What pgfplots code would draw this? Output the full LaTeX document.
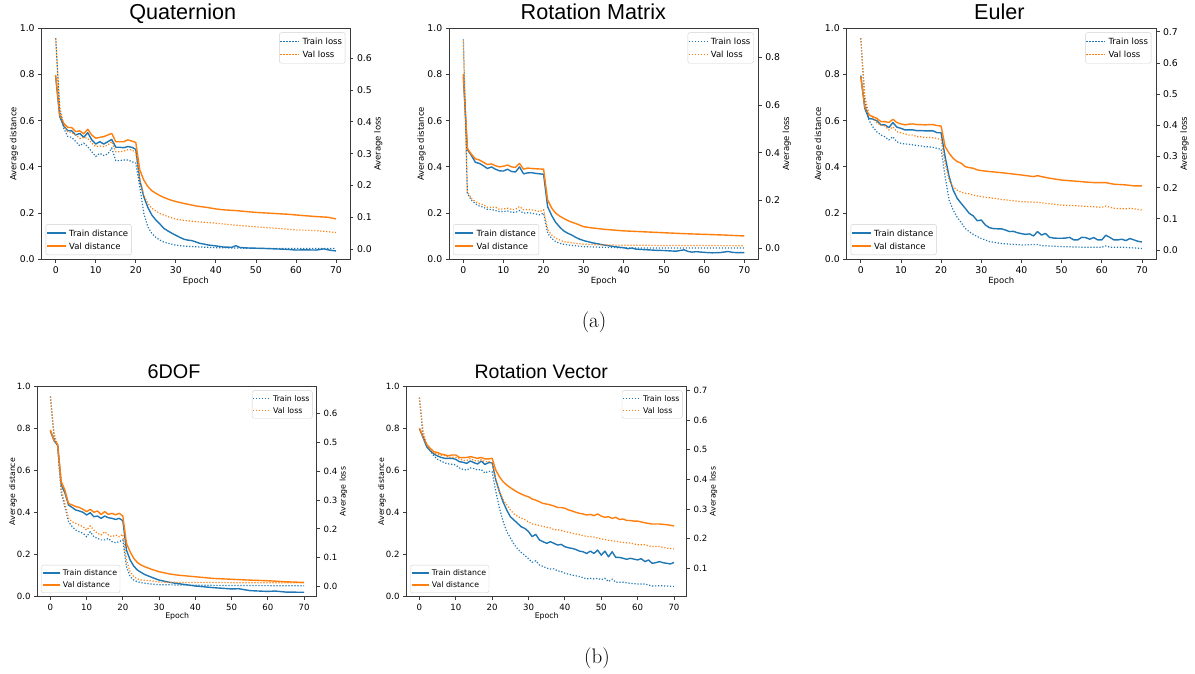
\documentclass[border=0pt]{standalone}
\usepackage{fontspec}
\newfontfamily\dejavu{DejaVu Sans}
\newfontfamily\arialf{Liberation Sans}
\usepackage{pgfplots}
\pgfplotsset{compat=1.18}

\definecolor{c0}{HTML}{1F77B4}
\definecolor{c1}{HTML}{FF7F0E}
\definecolor{spine}{HTML}{3A3A3A}

\pgfplotsset{
  mplcommon/.style={
    scale only axis, xmin=-3.5, xmax=73.5,
    axis line style={spine, line width=0.8pt},
    every tick/.style={spine, line width=0.8pt},
    tick align=outside, major tick length=3.5pt,
    /pgf/number format/assume math mode=true,
    y tick label style={/pgf/number format/.cd, fixed, fixed zerofill, precision=1, /tikz/.cd},
    legend cell align=left,
    legend image code/.code={\draw[##1] (0pt,0pt) -- (18.7pt,0pt);},
    legend style={draw=black!18, rounded corners=2pt, fill=white, fill opacity=0.8, text opacity=1,
      inner xsep=0.3pt, inner ysep=2.3pt},
  },
  leftax/.style={mplcommon, ymin=0, ymax=1,
    xtick={0,10,...,70}, ytick={0,0.2,0.4,0.6,0.8,1.0},
    xtick pos=bottom, ytick pos=left,
    xlabel={Epoch}, ylabel={Average distance}},
  rightax/.style={mplcommon, axis x line=none, axis y line*=right,
    ylabel={Average loss}},
  toprow/.style={
    tick label style={font=\dejavu\fontsize{9.3}{11}\selectfont},
    label style={font=\dejavu\fontsize{8.5}{10}\selectfont},
    xlabel style={at={(axis description cs:0.5,-0.094)}, anchor=center},
    legend style={font=\dejavu\fontsize{8.5}{10}\selectfont,
      nodes={inner ysep=3.15pt, inner xsep=2.8pt, text height=6.3pt, text depth=0.4pt}},
    height=231pt},
  botrow/.style={
    tick label style={font=\dejavu\fontsize{8.6}{10}\selectfont},
    label style={font=\dejavu\fontsize{7.8}{9}\selectfont},
    xlabel style={at={(axis description cs:0.5,-0.092)}, anchor=center},
    legend style={font=\dejavu\fontsize{7.8}{9}\selectfont, inner ysep=1.8pt,
      nodes={inner ysep=2.9pt, inner xsep=2.6pt, text height=5.8pt, text depth=0.4pt}},
    legend image code/.code={\draw[##1] (0pt,0pt) -- (17pt,0pt);},
    height=210pt},
  ylabL/.style={ylabel style={at={(axis description cs:#1,0.5)}, anchor=center}},
  ylabR/.style={ylabel style={at={(axis description cs:#1,0.5)}, anchor=center}},
  legLL/.style={legend style={at={(0.013,0.018)}, anchor=south west}},
  legUR/.style={legend style={at={(0.985,0.982)}, anchor=north east}},
  tdist/.style={c0, line width=1.4pt, line join=round},
  vdist/.style={c1, line width=1.4pt, line join=round},
  tloss/.style={c0, line width=1.2pt, dash pattern=on 1.2pt off 1.8pt},
  vloss/.style={c1, line width=1.2pt, dash pattern=on 1.2pt off 1.8pt},
}

\begin{document}
\begin{tikzpicture}
\path[use as bounding box] (0pt,0pt) rectangle (1195pt,673pt);

% ================= Quaternion =================
\begin{axis}[leftax, toprow, legLL, ylabL=-0.09, width=308.3pt, at={(41.7pt,413.7pt)}, anchor=south west]
\addplot[tdist] coordinates {(0,0.79)(1,0.618)(2,0.577)(3,0.557)(4,0.556)(5,0.538)(6,0.545)(7,0.528)(8,0.548)(9,0.517)(10,0.499)(11,0.509)(12,0.499)(13,0.509)(14,0.519)(15,0.485)(16,0.485)(17,0.483)(18,0.488)(19,0.485)(20,0.476)(21,0.343)(22,0.271)(23,0.225)(24,0.192)(25,0.170)(26,0.153)(27,0.134)(28,0.123)(29,0.113)(30,0.104)(31,0.095)(32,0.087)(33,0.083)(34,0.081)(35,0.075)(36,0.069)(37,0.066)(38,0.062)(39,0.060)(40,0.058)(42,0.053)(44,0.052)(45,0.059)(46,0.051)(48,0.049)(50,0.048)(52,0.047)(55,0.045)(58,0.043)(60,0.040)(62,0.041)(65,0.040)(67,0.045)(68,0.041)(70,0.036)};
\addlegendentry{Train distance}
\addplot[vdist] coordinates {(0,0.798)(1,0.625)(2,0.589)(3,0.571)(4,0.570)(5,0.553)(6,0.556)(7,0.543)(8,0.563)(9,0.538)(10,0.524)(11,0.528)(12,0.531)(13,0.538)(14,0.545)(15,0.509)(16,0.509)(17,0.509)(18,0.517)(19,0.512)(20,0.506)(21,0.387)(22,0.343)(23,0.315)(24,0.297)(25,0.286)(26,0.276)(27,0.268)(28,0.261)(29,0.255)(30,0.250)(32,0.242)(35,0.231)(38,0.224)(40,0.218)(42,0.214)(45,0.211)(48,0.206)(50,0.203)(52,0.201)(55,0.198)(58,0.195)(60,0.192)(62,0.189)(65,0.185)(68,0.182)(70,0.175)};
\addlegendentry{Val distance}
\end{axis}
\begin{axis}[rightax, toprow, legUR, ylabR=1.092, width=308.3pt, at={(41.7pt,413.7pt)}, anchor=south west,
  ymin=-0.0324, ymax=0.6943, ytick={0,0.1,0.2,0.3,0.4,0.5,0.6}]
\addplot[tloss] coordinates {(0,0.663)(1,0.437)(2,0.380)(3,0.354)(4,0.351)(5,0.338)(6,0.325)(7,0.333)(8,0.322)(9,0.306)(10,0.291)(11,0.301)(12,0.294)(13,0.299)(14,0.317)(15,0.278)(16,0.278)(17,0.280)(18,0.280)(19,0.275)(20,0.270)(21,0.196)(22,0.112)(23,0.070)(24,0.049)(25,0.037)(26,0.028)(27,0.022)(28,0.018)(30,0.012)(32,0.009)(35,0.007)(40,0.004)(45,0.003)(50,0.002)(60,0.002)(70,0.002)};
\addlegendentry{Train loss}
\addplot[vloss] coordinates {(0,0.660)(1,0.448)(2,0.390)(3,0.369)(4,0.366)(5,0.359)(6,0.348)(7,0.351)(8,0.348)(9,0.333)(10,0.322)(11,0.324)(12,0.322)(13,0.327)(14,0.338)(15,0.306)(16,0.306)(17,0.308)(18,0.312)(19,0.312)(20,0.303)(21,0.217)(22,0.170)(23,0.144)(24,0.128)(25,0.120)(26,0.112)(27,0.107)(28,0.102)(30,0.094)(32,0.090)(35,0.086)(40,0.081)(45,0.075)(50,0.070)(55,0.065)(60,0.060)(65,0.058)(70,0.052)};
\addlegendentry{Val loss}
\end{axis}
\node[anchor=base, font=\arialf\fontsize{21.6}{26}\selectfont] at (182.7pt,653pt) {Quaternion};

% ================= Rotation Matrix =================
\begin{axis}[leftax, toprow, legLL, ylabL=-0.09, width=309pt, at={(449.3pt,413.7pt)}, anchor=south west]
\addplot[tdist] coordinates {(0,0.79)(1,0.475)(2,0.45)(3,0.42)(4,0.415)(5,0.405)(6,0.393)(7,0.40)(8,0.39)(9,0.383)(10,0.382)(11,0.39)(12,0.38)(13,0.378)(14,0.40)(15,0.37)(16,0.374)(17,0.375)(18,0.372)(19,0.37)(20,0.368)(21,0.228)(22,0.19)(23,0.16)(24,0.14)(25,0.123)(26,0.113)(27,0.105)(28,0.095)(29,0.087)(30,0.081)(32,0.072)(35,0.062)(38,0.054)(40,0.050)(41,0.046)(42,0.049)(43,0.044)(45,0.042)(48,0.039)(50,0.038)(53,0.035)(55,0.041)(56,0.034)(57,0.031)(58,0.033)(60,0.030)(62,0.028)(64,0.029)(66,0.034)(67,0.030)(68,0.029)(70,0.029)};
\addlegendentry{Train distance}
\addplot[vdist] coordinates {(0,0.802)(1,0.48)(2,0.455)(3,0.435)(4,0.43)(5,0.42)(6,0.41)(7,0.413)(8,0.405)(9,0.40)(10,0.403)(11,0.408)(12,0.40)(13,0.398)(14,0.415)(15,0.39)(16,0.395)(17,0.393)(18,0.392)(19,0.391)(20,0.39)(21,0.257)(22,0.222)(23,0.200)(24,0.187)(25,0.177)(26,0.168)(27,0.161)(28,0.155)(30,0.141)(32,0.136)(35,0.130)(40,0.123)(45,0.119)(50,0.115)(55,0.111)(60,0.108)(65,0.105)(70,0.101)};
\addlegendentry{Val distance}
\end{axis}
\begin{axis}[rightax, toprow, legUR, ylabR=1.092, width=309pt, at={(449.3pt,413.7pt)}, anchor=south west,
  ymin=-0.046, ymax=0.921, ytick={0,0.2,0.4,0.6,0.8}]
\addplot[tloss] coordinates {(0,0.875)(1,0.23)(2,0.202)(3,0.186)(4,0.177)(5,0.172)(6,0.163)(7,0.163)(8,0.158)(9,0.154)(10,0.154)(11,0.156)(12,0.151)(13,0.151)(14,0.158)(15,0.147)(16,0.149)(17,0.147)(18,0.144)(19,0.140)(20,0.147)(21,0.063)(22,0.042)(23,0.028)(24,0.021)(25,0.017)(27,0.012)(30,0.007)(35,0.004)(40,0.002)(50,0.001)(70,0.001)};
\addlegendentry{Train loss}
\addplot[vloss] coordinates {(0,0.870)(1,0.237)(2,0.209)(3,0.195)(4,0.186)(5,0.182)(6,0.172)(7,0.172)(8,0.172)(9,0.163)(10,0.165)(11,0.168)(12,0.163)(13,0.163)(14,0.175)(15,0.161)(16,0.163)(17,0.161)(18,0.158)(19,0.154)(20,0.161)(21,0.077)(22,0.056)(23,0.042)(24,0.035)(25,0.028)(27,0.023)(30,0.017)(35,0.014)(40,0.013)(50,0.012)(70,0.011)};
\addlegendentry{Val loss}
\end{axis}
\node[anchor=base, font=\arialf\fontsize{21.6}{26}\selectfont] at (593.3pt,653pt) {Rotation Matrix};

% ================= Euler =================
\begin{axis}[leftax, toprow, legLL, ylabL=-0.09, width=309.3pt, at={(846.7pt,413.7pt)}, anchor=south west]
\addplot[tdist] coordinates {(0,0.795)(1,0.654)(2,0.610)(3,0.607)(4,0.600)(5,0.582)(6,0.582)(7,0.570)(8,0.592)(9,0.572)(10,0.567)(11,0.560)(12,0.560)(13,0.560)(14,0.557)(15,0.557)(16,0.556)(17,0.556)(18,0.556)(19,0.548)(20,0.548)(21,0.444)(22,0.358)(23,0.300)(24,0.264)(25,0.242)(26,0.221)(27,0.199)(28,0.188)(29,0.167)(30,0.170)(31,0.149)(32,0.137)(33,0.133)(34,0.132)(35,0.132)(36,0.127)(37,0.120)(38,0.121)(39,0.115)(40,0.111)(41,0.108)(42,0.110)(43,0.101)(44,0.120)(45,0.105)(46,0.112)(47,0.095)(48,0.092)(49,0.091)(50,0.091)(51,0.092)(52,0.095)(53,0.084)(54,0.084)(55,0.095)(56,0.094)(57,0.087)(58,0.094)(59,0.084)(60,0.084)(61,0.104)(62,0.095)(63,0.084)(64,0.084)(65,0.087)(66,0.081)(67,0.090)(68,0.084)(69,0.078)(70,0.075)};
\addlegendentry{Train distance}
\addplot[vdist] coordinates {(0,0.791)(1,0.661)(2,0.625)(3,0.618)(4,0.610)(5,0.596)(6,0.596)(7,0.592)(8,0.606)(9,0.592)(10,0.586)(11,0.582)(12,0.585)(13,0.586)(14,0.583)(15,0.583)(16,0.582)(17,0.583)(18,0.583)(19,0.579)(20,0.577)(21,0.488)(22,0.459)(23,0.437)(24,0.423)(25,0.416)(26,0.401)(27,0.397)(28,0.394)(29,0.387)(30,0.384)(32,0.380)(35,0.375)(38,0.369)(40,0.365)(43,0.358)(44,0.362)(45,0.358)(47,0.351)(50,0.343)(55,0.336)(58,0.332)(61,0.332)(63,0.325)(66,0.322)(68,0.318)(70,0.318)};
\addlegendentry{Val distance}
\end{axis}
\begin{axis}[rightax, toprow, legUR, ylabR=1.092, width=309.3pt, at={(846.7pt,413.7pt)}, anchor=south west,
  ymin=-0.0298, ymax=0.711, ytick={0,0.1,0.2,0.3,0.4,0.5,0.6,0.7}]
\addplot[tloss] coordinates {(0,0.679)(1,0.481)(2,0.417)(3,0.395)(4,0.379)(5,0.369)(6,0.363)(7,0.353)(8,0.363)(9,0.347)(10,0.342)(11,0.340)(12,0.339)(13,0.337)(14,0.335)(15,0.334)(16,0.331)(17,0.331)(18,0.329)(19,0.326)(20,0.323)(21,0.235)(22,0.160)(23,0.128)(24,0.105)(25,0.088)(26,0.069)(27,0.059)(28,0.050)(30,0.037)(32,0.027)(35,0.021)(40,0.016)(44,0.018)(45,0.014)(50,0.011)(55,0.009)(60,0.009)(61,0.013)(62,0.009)(65,0.009)(70,0.005)};
\addlegendentry{Train loss}
\addplot[vloss] coordinates {(0,0.679)(1,0.492)(2,0.438)(3,0.422)(4,0.408)(5,0.401)(6,0.398)(7,0.385)(8,0.395)(9,0.379)(10,0.376)(11,0.372)(12,0.369)(13,0.369)(14,0.363)(15,0.363)(16,0.361)(17,0.361)(18,0.360)(19,0.358)(20,0.353)(21,0.278)(22,0.224)(23,0.203)(24,0.192)(25,0.185)(26,0.182)(27,0.180)(28,0.176)(30,0.171)(33,0.166)(35,0.162)(38,0.158)(40,0.155)(44,0.153)(45,0.151)(48,0.147)(50,0.144)(55,0.141)(60,0.137)(61,0.141)(63,0.134)(66,0.132)(67,0.134)(70,0.128)};
\addlegendentry{Val loss}
\end{axis}
\node[anchor=base, font=\arialf\fontsize{21.6}{26}\selectfont] at (999.3pt,653pt) {Euler};

\node[anchor=base, font=\fontsize{21}{25}\selectfont] at (594pt,345pt) {(a)};

% ================= 6DOF =================
\begin{axis}[leftax, botrow, legLL, ylabL=-0.0885, width=279pt, at={(37.7pt,76.3pt)}, anchor=south west]
\addplot[tdist] coordinates {(0,0.79)(1,0.743)(2,0.722)(3,0.532)(4,0.495)(5,0.437)(6,0.425)(7,0.413)(8,0.408)(9,0.402)(10,0.389)(11,0.400)(12,0.381)(13,0.384)(14,0.373)(15,0.384)(16,0.376)(17,0.373)(18,0.368)(19,0.373)(20,0.362)(21,0.222)(22,0.175)(23,0.146)(24,0.127)(25,0.116)(26,0.106)(28,0.092)(30,0.079)(33,0.068)(35,0.063)(40,0.051)(45,0.043)(50,0.037)(52,0.038)(55,0.029)(60,0.025)(62,0.027)(65,0.022)(70,0.021)};
\addlegendentry{Train distance}
\addplot[vdist] coordinates {(0,0.794)(1,0.746)(2,0.725)(3,0.548)(4,0.508)(5,0.444)(6,0.437)(7,0.429)(8,0.425)(9,0.416)(10,0.405)(11,0.416)(12,0.402)(13,0.408)(14,0.392)(15,0.405)(16,0.392)(17,0.397)(18,0.390)(19,0.397)(20,0.384)(21,0.254)(22,0.214)(23,0.183)(24,0.163)(25,0.151)(26,0.143)(28,0.130)(30,0.119)(33,0.108)(35,0.103)(40,0.095)(45,0.087)(50,0.083)(55,0.079)(60,0.076)(65,0.071)(70,0.068)};
\addlegendentry{Val distance}
\end{axis}
\begin{axis}[rightax, botrow, legUR, ylabR=1.096, width=279pt, at={(37.7pt,76.3pt)}, anchor=south west,
  ymin=-0.0346, ymax=0.692, ytick={0,0.1,0.2,0.3,0.4,0.5,0.6}]
\addplot[tloss] coordinates {(0,0.658)(1,0.519)(2,0.485)(3,0.323)(4,0.277)(5,0.225)(6,0.208)(7,0.196)(8,0.190)(9,0.185)(10,0.173)(11,0.190)(12,0.173)(13,0.167)(14,0.162)(15,0.162)(16,0.167)(17,0.156)(18,0.152)(19,0.156)(20,0.162)(21,0.069)(22,0.035)(23,0.023)(24,0.017)(25,0.014)(28,0.009)(30,0.007)(40,0.005)(70,0.003)};
\addlegendentry{Train loss}
\addplot[vloss] coordinates {(0,0.658)(1,0.531)(2,0.490)(3,0.335)(4,0.288)(5,0.237)(6,0.225)(7,0.219)(8,0.213)(9,0.208)(10,0.196)(11,0.210)(12,0.196)(13,0.185)(14,0.179)(15,0.190)(16,0.179)(17,0.173)(18,0.179)(19,0.173)(20,0.181)(21,0.092)(22,0.052)(23,0.035)(24,0.027)(25,0.023)(28,0.020)(30,0.016)(35,0.015)(50,0.014)(70,0.014)};
\addlegendentry{Val loss}
\end{axis}
\node[anchor=base, font=\arialf\fontsize{19.8}{24}\selectfont] at (174pt,294.7pt) {6DOF};

% ================= Rotation Vector =================
\begin{axis}[leftax, botrow, legLL, ylabL=-0.0885, width=280pt, at={(406.7pt,76.3pt)}, anchor=south west]
\addplot[tdist] coordinates {(0,0.80)(1,0.758)(2,0.714)(3,0.695)(4,0.679)(5,0.670)(6,0.663)(7,0.659)(8,0.659)(9,0.659)(10,0.654)(11,0.643)(12,0.640)(13,0.635)(14,0.646)(15,0.638)(16,0.632)(17,0.646)(18,0.630)(19,0.638)(20,0.638)(21,0.556)(22,0.5)(23,0.452)(24,0.413)(25,0.381)(26,0.365)(27,0.349)(28,0.333)(29,0.325)(30,0.310)(31,0.286)(32,0.297)(33,0.270)(34,0.262)(35,0.254)(36,0.262)(37,0.254)(38,0.246)(39,0.249)(40,0.238)(41,0.233)(42,0.230)(43,0.225)(44,0.217)(45,0.214)(46,0.206)(47,0.217)(48,0.206)(49,0.222)(50,0.198)(51,0.217)(52,0.190)(53,0.214)(54,0.187)(55,0.187)(56,0.183)(57,0.178)(58,0.183)(59,0.179)(60,0.175)(61,0.181)(62,0.167)(63,0.175)(64,0.159)(65,0.162)(66,0.167)(67,0.162)(68,0.159)(69,0.156)(70,0.163)};
\addlegendentry{Train distance}
\addplot[vdist] coordinates {(0,0.802)(1,0.762)(2,0.725)(3,0.706)(4,0.690)(5,0.686)(6,0.679)(7,0.675)(8,0.671)(9,0.675)(10,0.675)(11,0.663)(12,0.662)(13,0.663)(14,0.667)(15,0.663)(16,0.659)(17,0.663)(18,0.656)(19,0.656)(20,0.659)(21,0.603)(22,0.571)(23,0.548)(24,0.532)(25,0.519)(26,0.508)(27,0.497)(28,0.489)(29,0.481)(30,0.476)(31,0.465)(32,0.460)(33,0.452)(34,0.444)(35,0.441)(36,0.437)(37,0.432)(38,0.425)(39,0.425)(40,0.421)(41,0.413)(42,0.408)(43,0.402)(44,0.397)(45,0.394)(46,0.389)(47,0.392)(48,0.386)(49,0.394)(50,0.384)(51,0.378)(52,0.381)(53,0.373)(54,0.378)(55,0.368)(56,0.370)(57,0.363)(58,0.363)(59,0.360)(60,0.360)(62,0.352)(64,0.346)(66,0.346)(68,0.343)(70,0.337)};
\addlegendentry{Val distance}
\end{axis}
\begin{axis}[rightax, botrow, legUR, ylabR=1.096, width=280pt, at={(406.7pt,76.3pt)}, anchor=south west,
  ymin=0.004, ymax=0.712, ytick={0.1,0.2,0.3,0.4,0.5,0.6,0.7}]
\addplot[tloss] coordinates {(0,0.675)(1,0.545)(2,0.512)(3,0.495)(4,0.478)(5,0.467)(6,0.461)(7,0.455)(8,0.452)(9,0.450)(10,0.448)(11,0.438)(12,0.433)(13,0.431)(14,0.438)(15,0.436)(16,0.431)(17,0.433)(18,0.421)(19,0.427)(20,0.425)(21,0.359)(22,0.303)(23,0.258)(24,0.224)(25,0.202)(26,0.181)(27,0.165)(28,0.153)(29,0.143)(30,0.132)(31,0.120)(32,0.125)(33,0.111)(34,0.106)(35,0.100)(36,0.097)(37,0.098)(38,0.091)(39,0.089)(40,0.083)(42,0.077)(44,0.072)(46,0.064)(47,0.066)(48,0.064)(49,0.066)(50,0.061)(51,0.066)(52,0.055)(53,0.063)(54,0.053)(56,0.053)(58,0.049)(60,0.047)(62,0.047)(64,0.040)(66,0.041)(68,0.040)(70,0.038)};
\addlegendentry{Train loss}
\addplot[vloss] coordinates {(0,0.675)(1,0.562)(2,0.517)(3,0.500)(4,0.489)(5,0.483)(6,0.481)(7,0.480)(8,0.474)(9,0.474)(10,0.474)(11,0.469)(12,0.463)(13,0.463)(14,0.470)(15,0.463)(16,0.461)(17,0.466)(18,0.459)(19,0.461)(20,0.455)(21,0.399)(22,0.359)(23,0.331)(24,0.314)(25,0.297)(26,0.283)(27,0.275)(28,0.269)(29,0.264)(30,0.256)(31,0.249)(32,0.247)(33,0.244)(34,0.241)(35,0.238)(36,0.236)(37,0.230)(38,0.230)(39,0.227)(40,0.224)(42,0.218)(44,0.213)(46,0.207)(48,0.205)(50,0.199)(52,0.194)(54,0.191)(56,0.187)(58,0.185)(60,0.179)(62,0.179)(64,0.173)(66,0.173)(68,0.168)(70,0.165)};
\addlegendentry{Val loss}
\end{axis}
\node[anchor=base, font=\arialf\fontsize{19.5}{24}\selectfont] at (541.3pt,294.7pt) {Rotation Vector};

\node[anchor=base, font=\fontsize{21}{25}\selectfont] at (597pt,9.7pt) {(b)};
\end{tikzpicture}
\end{document}
